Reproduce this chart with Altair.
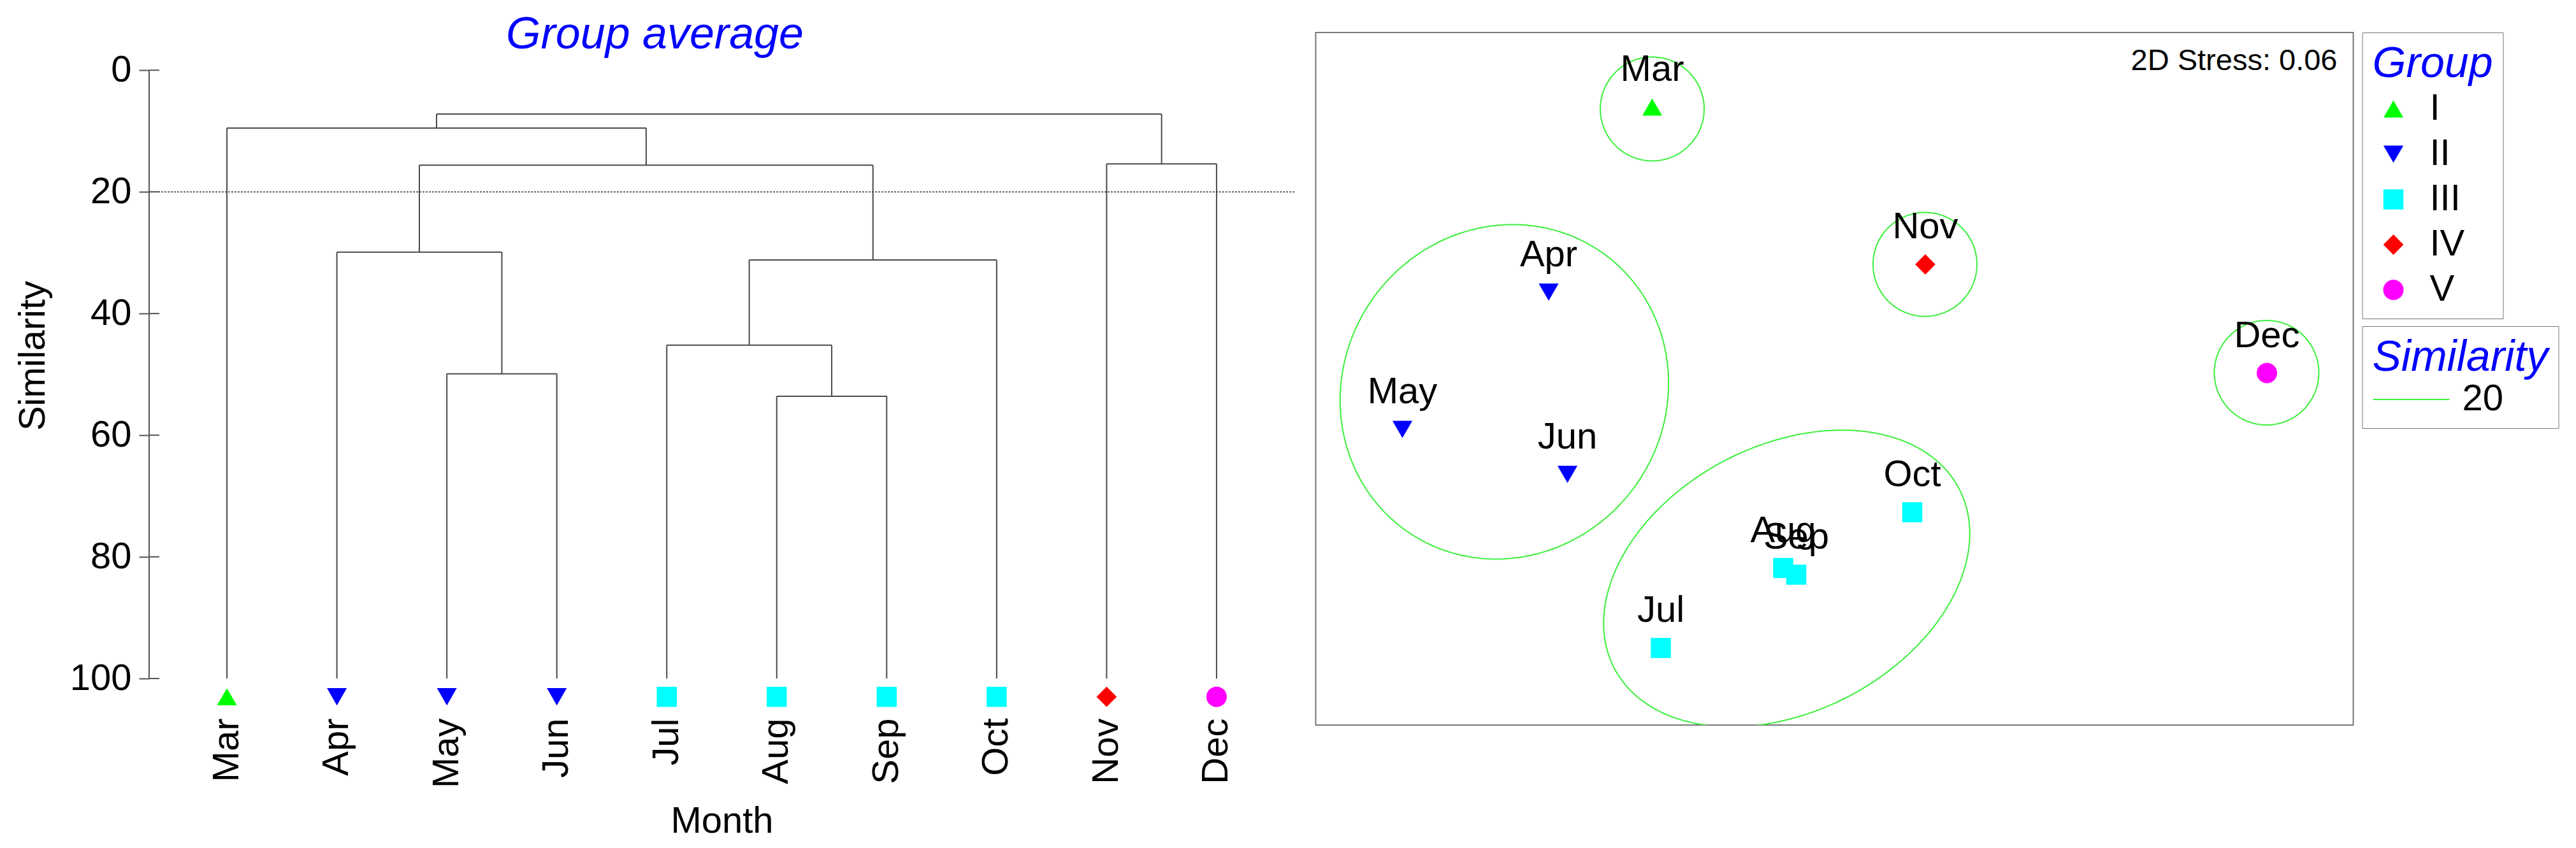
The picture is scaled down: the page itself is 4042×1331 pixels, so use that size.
import numpy as np
import pandas as pd
import altair as alt

FONT = "Liberation Sans, Arial, Helvetica, sans-serif"

# ---------------- data ----------------
months = ["Mar", "Apr", "May", "Jun", "Jul", "Aug", "Sep", "Oct", "Nov", "Dec"]
month_group = ["I", "II", "II", "II", "III", "III", "III", "III", "IV", "V"]

group_names = ["I", "II", "III", "IV", "V"]
group_colors = ["#00ff00", "#0000ff", "#00ffff", "#ff0000", "#ff00ff"]
group_shapes = ["triangle-up", "triangle-down", "square", "diamond", "circle"]
group_sizes = [961, 1024, 625, 961, 676]

# dendrogram (group average): leaves 0..9, merged nodes numbered 10, 11, ...
merge_left = [2, 5, 4, 1, 12, 8, 13, 0, 17]
merge_right = [3, 6, 11, 10, 7, 9, 14, 16, 15]
merge_similarity = [49.9, 53.6, 45.2, 29.9, 31.2, 15.4, 15.6, 9.5, 7.2]
leaf_similarity = 100
marker_similarity = 103
cut_similarity = 20
similarity_ticks = [0, 20, 40, 60, 80, 100]

# NMDS ordination
nmds_x = [-0.572, -0.897, -1.356, -0.838, -0.545, -0.161, -0.120, 0.244, 0.285, 1.357]
nmds_y = [0.853, 0.272, -0.159, -0.300, -0.845, -0.594, -0.615, -0.419, 0.359, 0.018]

# similarity-20 contours (ellipses)
ell_cx = [-0.572, -1.036, -0.150, 0.284, 1.356]
ell_cy = [0.847, -0.041, -0.627, 0.359, 0.019]
ell_a = [0.163, 0.534, 0.610, 0.163, 0.164]
ell_b = [0.163, 0.506, 0.418, 0.163, 0.164]
ell_angle = [0, 55, 27.5, 0, 0]
contour_level = "20"
stress_text = "2D Stress: 0.06"

LINE = "#4a4a4a"
AXIS = "#555555"
CONTOUR = "#3cf03c"

# ---------------- dendrogram geometry ----------------
n = len(months)
xpos = list(range(n))
height = [leaf_similarity] * n
segs = []
for l, r, s in zip(merge_left, merge_right, merge_similarity):
    for c in (l, r):
        segs.append({"x": xpos[c], "x2": xpos[c], "y": height[c], "y2": s})
    segs.append({"x": xpos[l], "x2": xpos[r], "y": s, "y2": s})
    xpos.append((xpos[l] + xpos[r]) / 2)
    height.append(s)
tree_df = pd.DataFrame(segs)

leaf_df = pd.DataFrame({"x": list(range(n)), "y": [marker_similarity] * n,
                        "group": month_group, "month": months})
cut_df = pd.DataFrame({"y": [cut_similarity]})
tick_df = pd.DataFrame({"y": similarity_ticks})
axis_df = pd.DataFrame({"y": [similarity_ticks[0]], "y2": [similarity_ticks[-1]]})

pad = 0.7075
LW, LH = 1797, 1014
top_extra = -6.2
xscale_l = alt.Scale(domain=[-pad, n - 1 + pad], nice=False, zero=False)
yscale_l = alt.Scale(domain=[top_extra, 100], reverse=True, nice=False, zero=False)

label_expr = "[" + ",".join("'%s'" % m for m in months) + "][datum.value]"

x_axis = alt.Axis(values=list(range(n)), labelExpr=label_expr, labelAngle=270,
                  labelPadding=62, ticks=False, tickSize=0, domain=False, grid=False,
                  labelFlush=False, labelOverlap=False, labelFontSize=58, labelColor="black",
                  title="Month", titleFontSize=58, titleFontWeight="normal",
                  titleColor="black", titlePadding=24)
y_axis = alt.Axis(values=similarity_ticks, tickSize=16, tickWidth=2, tickColor=AXIS,
                  domain=False, labelPadding=12, labelFontSize=58,
                  labelColor="black", grid=False, title="Similarity", titleFontSize=58,
                  titleFontWeight="normal", titleColor="black", titlePadding=28)

tree = alt.Chart(tree_df).mark_rule(color=LINE, strokeWidth=2).encode(
    x=alt.X("x:Q", scale=xscale_l, axis=x_axis),
    x2="x2:Q",
    y=alt.Y("y:Q", scale=yscale_l, axis=y_axis),
    y2="y2:Q",
)
cut = alt.Chart(cut_df).mark_rule(color="#333", strokeWidth=1.5, strokeDash=[3, 2]).encode(
    y=alt.Y("y:Q"))
axis_line = alt.Chart(axis_df).mark_rule(color=AXIS, strokeWidth=2).encode(
    y="y:Q", y2="y2:Q", x=alt.value(0))
inner_ticks = alt.Chart(tick_df).mark_rule(color=AXIS, strokeWidth=2).encode(
    y=alt.Y("y:Q"), x=alt.value(0), x2=alt.value(16))

color_scale = alt.Scale(domain=group_names, range=group_colors)
shape_scale = alt.Scale(domain=group_names, range=group_shapes)
size_scale = alt.Scale(domain=group_names, range=group_sizes)

markers = alt.Chart(leaf_df).mark_point(filled=True, opacity=1, strokeWidth=0).encode(
    x="x:Q", y="y:Q",
    color=alt.Color("group:N", scale=color_scale, legend=None),
    shape=alt.Shape("group:N", scale=shape_scale, legend=None),
    size=alt.Size("group:N", scale=size_scale, legend=None),
)

left = alt.layer(tree, cut, axis_line, inner_ticks, markers).properties(
    width=LW, height=LH,
    title=alt.TitleParams("Group average", fontSize=70, color="#0000ff", fontStyle="italic",
                          fontWeight="normal", offset=-40, anchor="middle", frame="bounds",
                          baseline="top"),
)

# ---------------- NMDS ----------------
pts_df = pd.DataFrame({"x": nmds_x, "y": nmds_y, "group": month_group, "month": months})

t = np.linspace(0, 2 * np.pi, 241)
rows = []
for k, (cx, cy, a, b, ang) in enumerate(zip(ell_cx, ell_cy, ell_a, ell_b, ell_angle)):
    th = np.radians(ang)
    ex = cx + a * np.cos(t) * np.cos(th) - b * np.sin(t) * np.sin(th)
    ey = cy + a * np.cos(t) * np.sin(th) + b * np.sin(t) * np.cos(th)
    for i in range(len(t)):
        rows.append({"x": ex[i], "y": ey[i], "cluster": group_names[k], "ord": i,
                     "level": contour_level})
ell_df = pd.DataFrame(rows)

W, H = 1628, 1087
xscale_r = alt.Scale(domain=[-W / 1000, W / 1000], nice=False, zero=False)
yscale_r = alt.Scale(domain=[-H / 1000, H / 1000], nice=False, zero=False)

legend_common = dict(orient="none", legendX=W + 14, padding=16, strokeColor="#777",
                     titleFontSize=68, titleColor="#0000ff", titleFontStyle="italic",
                     titleFontWeight="normal", titleLimit=1000, labelLimit=1000,
                     labelFontSize=58, labelColor="black", clipHeight=58)
group_legend = alt.Legend(title="Group", legendY=0, labelOffset=28, rowPadding=13,
                          symbolOffset=4, titlePadding=7, **legend_common)
sim_legend = alt.Legend(title="Similarity", legendY=461, labelOffset=19, symbolType="stroke",
                        symbolSize=14400, symbolStrokeWidth=2, symbolStrokeColor=CONTOUR,
                        titlePadding=2, **legend_common)

contours = alt.Chart(ell_df).mark_line(clip=True, strokeWidth=2).encode(
    x=alt.X("x:Q", scale=xscale_r, axis=None),
    y=alt.Y("y:Q", scale=yscale_r, axis=None),
    detail="cluster:N",
    order="ord:Q",
    stroke=alt.Stroke("level:N", scale=alt.Scale(range=[CONTOUR]), legend=sim_legend),
)
points = alt.Chart(pts_df).mark_point(filled=True, opacity=1, strokeWidth=0).encode(
    x="x:Q", y="y:Q",
    color=alt.Color("group:N", scale=color_scale, legend=group_legend),
    shape=alt.Shape("group:N", scale=shape_scale, legend=group_legend),
    size=alt.Size("group:N", scale=size_scale, legend=group_legend),
)
labels = alt.Chart(pts_df).mark_text(fontSize=58, dy=-41, baseline="alphabetic",
                                     align="center", color="black").encode(
    x="x:Q", y="y:Q", text="month:N")
stress = alt.Chart(pd.DataFrame({"t": [stress_text]})).mark_text(
    fontSize=47, align="right", baseline="alphabetic", color="black").encode(
    x=alt.value(W - 25), y=alt.value(59), text="t:N")

right = alt.layer(contours, points, labels, stress).properties(
    width=W, height=H,
    view=alt.ViewBackground(stroke="#777", strokeWidth=2),
)

chart = alt.hconcat(left, right, spacing=31.5).resolve_scale(
    color="independent", shape="independent", size="independent", stroke="independent"
).properties(
    padding={"left": 15, "top": 12, "right": 5, "bottom": 5}
).configure(font=FONT).configure_view(strokeWidth=0)

chart.save("out.html", embed_options={"renderer": "svg", "actions": False})
